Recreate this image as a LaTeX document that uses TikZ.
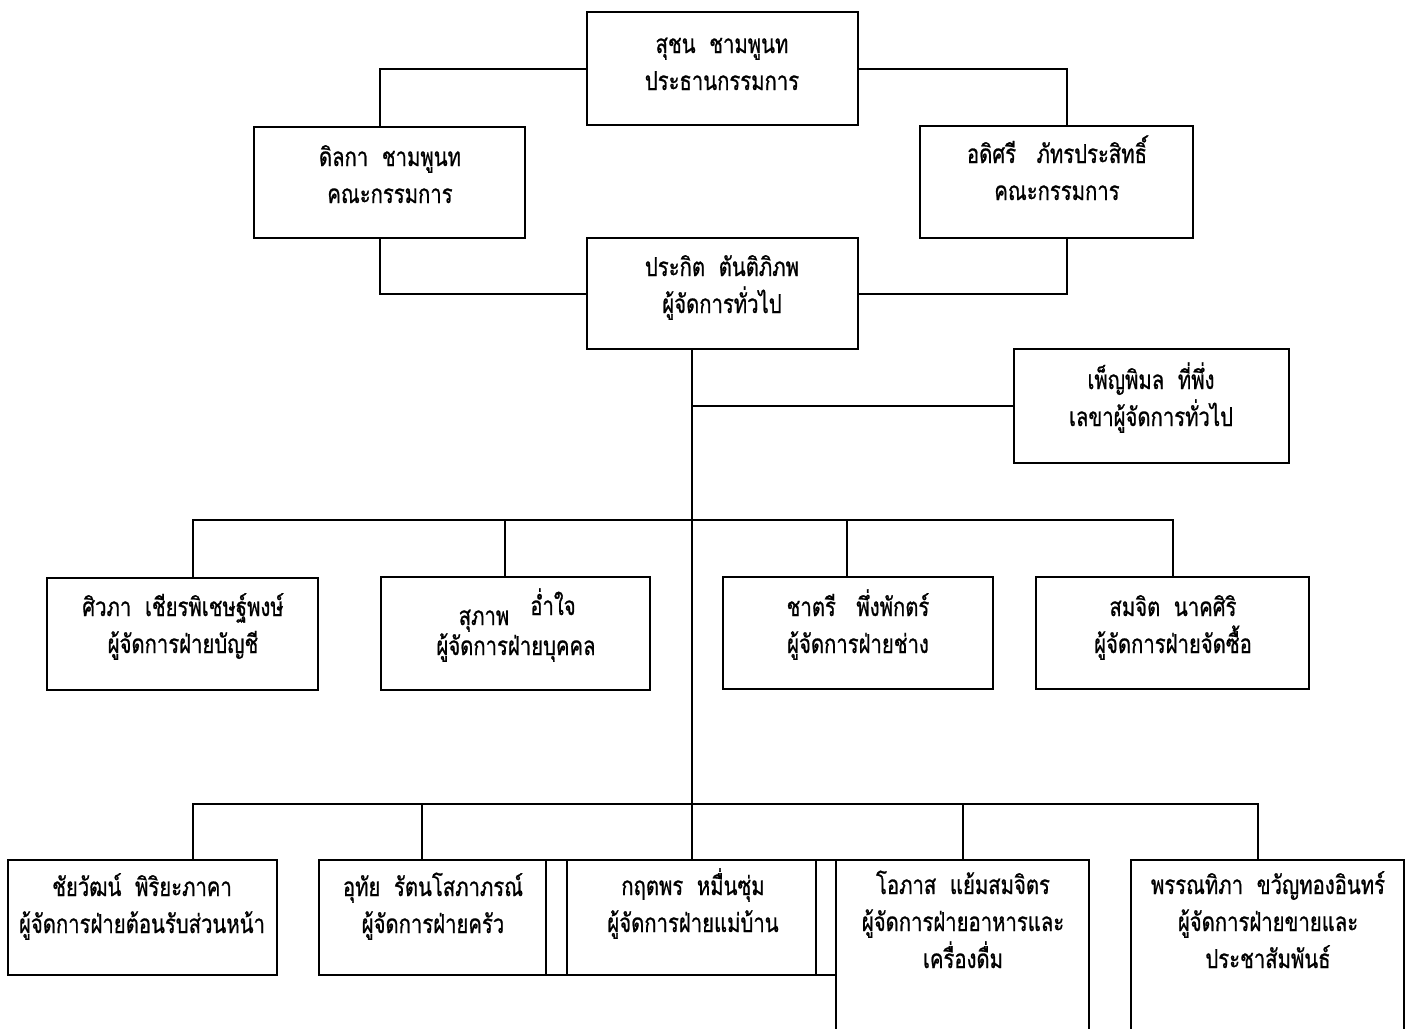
\documentclass[tikz,border=0pt]{standalone}
\usepackage{fontspec}
\setmainfont[Script=Thai,FakeStretch=0.78,FakeBold=0.8]{Loma}
\begin{document}
\begin{tikzpicture}[x=1pt,y=-1pt,
  box/.style={draw=black,line width=2.1pt,inner sep=0pt},
  txt/.style={font=\fontsize{26}{37}\selectfont,align=center,anchor=base,inner sep=0pt},
  conn/.style={line width=2pt}]
\clip (0,0) rectangle (1413,1028);
\fill[white] (0,0) rectangle (1413,1028);
% boxes
\node[box,minimum width=271,minimum height=113] (b1) at (722.5,68.5) {};
\node[box,minimum width=271,minimum height=111] (b2) at (389.5,182.5) {};
\node[box,minimum width=273,minimum height=112] (b3) at (1056.5,182) {};
\node[box,minimum width=271,minimum height=111] (b4) at (722.5,293.5) {};
\node[box,minimum width=275,minimum height=114] (b5) at (1151.5,406) {};
\node[box,minimum width=271,minimum height=112] (b6) at (182.5,634) {};
\node[box,minimum width=269,minimum height=113] (b7) at (515.5,633.5) {};
\node[box,minimum width=270,minimum height=112] (b8) at (858,633) {};
\node[box,minimum width=273,minimum height=112] (b9) at (1172.5,633) {};
\node[box,minimum width=269,minimum height=115] (b10) at (142.5,917.5) {};
\node[box,minimum width=227,minimum height=115] (b11) at (432.5,917.5) {};
\node[box,minimum width=290,minimum height=115] (b12f) at (691,917.5) {};
\node[box,minimum width=249,minimum height=115] (b12) at (691.5,917.5) {};
\node[box,minimum width=253,minimum height=180] (b13) at (962.5,950) {};
\node[box,minimum width=273,minimum height=180] (b14) at (1267.5,950) {};
% texts (anchor = baseline of last line)
\node[txt] (t1) at (722,90) {สุชน\ \ ชามพูนท\\ประธานกรรมการ};
\node[txt] (t2) at (390,203) {ดิลกา\ \ ชามพูนท\\คณะกรรมการ};
\node[txt] (t3) at (1057,200) {อดิศรี\ \ \ ภัทรประสิทธิ์\\คณะกรรมการ};
\node[txt] (t4) at (722,313) {ประกิต\ \ ตันติภิภพ\\ผู้จัดการทั่วไป};
\node[txt] (t5) at (1151,426) {เพ็ญพิมล\ \ ที่พึ่ง\\เลขาผู้จัดการทั่วไป};
\node[txt] (t6) at (183,653) {ศิวภา\ \ เชียรพิเชษฐ์พงษ์\\ผู้จัดการฝ่ายบัญชี};
\node[txt] (t7a) at (484,625) {สุภาพ};
\node[txt] (t7b) at (553,615) {อ่ำใจ};
\node[txt] (t7c) at (516,655) {ผู้จัดการฝ่ายบุคคล};
\node[txt] (t8) at (858,653) {ชาตรี\ \ \ พึ่งพักตร์\\ผู้จัดการฝ่ายช่าง};
\node[txt] (t9) at (1173,653) {สมจิต\ \ นาคศิริ\\ผู้จัดการฝ่ายจัดซื้อ};
\node[txt] (t10) at (142,933) {ชัยวัฒน์\ \ พิริยะภาคา\\ผู้จัดการฝ่ายต้อนรับส่วนหน้า};
\node[txt] (t11) at (433,933) {อุทัย\ \ รัตนโสภาภรณ์\\ผู้จัดการฝ่ายครัว};
\node[txt] (t12) at (693,932) {กฤตพร\ \ หมื่นซุ่ม\\ผู้จัดการฝ่ายแม่บ้าน};
\node[txt] (t13) at (963,968) {โอภาส\ \ แย้มสมจิตร\\ผู้จัดการฝ่ายอาหารและ\\เครื่องดื่ม};
\node[txt] (t14) at (1268,968) {พรรณทิภา\ \ ขวัญทองอินทร์\\ผู้จัดการฝ่ายขายและ\\ประชาสัมพันธ์};
% connectors
\draw[conn] (b1.west) -| ([xshift=-9.5pt]b2.north);
\draw[conn] (b1.east) -| ([xshift=10.5pt]b3.north);
\draw[conn] ([xshift=-9.5pt]b2.south) |- (b4.west);
\draw[conn] (b4.east) -| ([xshift=10.5pt]b3.south);
\draw[conn] (b12.north |- b4.south) -- (b12.north);
\draw[conn] (b12.north |- b5.west) -- (b5.west);
\draw[conn] ([xshift=10.5pt]b6.north) -- ++(0,-57) -| (b9.north);
\draw[conn] ([xshift=-10.5pt]b7.north) -- ++(0,-56);
\draw[conn] ([xshift=-11pt]b8.north) -- ++(0,-56);
\draw[conn] ([xshift=50.5pt]b10.north) -- ++(0,-55) -| ([xshift=-9.5pt]b14.north);
\draw[conn] ([xshift=-10.5pt]b11.north) -- ++(0,-55);
\draw[conn] (b13.north) -- ++(0,-55);
\end{tikzpicture}
\end{document}
